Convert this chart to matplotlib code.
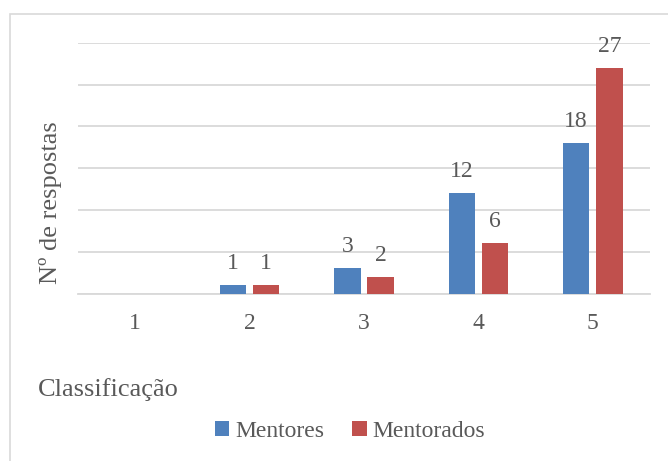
import matplotlib
matplotlib.use("Agg")
from matplotlib import pyplot as plt
import numpy as np

categorias = ["1", "2", "3", "4", "5"]
mentores = [0, 1, 3, 12, 18]
mentorados = [0, 1, 2, 6, 27]
rotulos_mentores = ["", "1", "3", "12", "18"]
rotulos_mentorados = ["", "1", "2", "6", "27"]

plt.rcParams['font.family'] = 'serif'
plt.rcParams['font.serif'] = ['Liberation Serif', 'DejaVu Serif']
cinza = '#595959'
azul = '#4F81BD'
vermelho = '#C0504D'

fig = plt.figure(figsize=(6.68, 4.61), dpi=100)
W, H = 668, 461

# borda do gráfico (só aparece à esquerda e em cima)
fig.patches.append(plt.Rectangle((10 / W, -0.1), 1.2, 1 - 14 / H + 0.1,
                                 transform=fig.transFigure, fill=False,
                                 edgecolor='#D9D9D9', linewidth=1.2))

ax = fig.add_axes([78 / W, 1 - 293.5 / H, 572 / W, 250.5 / H])
x = np.arange(len(categorias))
w = 0.23
off = 0.145
b1 = ax.bar(x - off, mentores, w, color=azul, label='Mentores', zorder=3)
b2 = ax.bar(x + off, mentorados, w, color=vermelho, label='Mentorados', zorder=3)

for barras, rotulos in [(b1, rotulos_mentores), (b2, rotulos_mentorados)]:
    for b, r in zip(barras, rotulos):
        if r:
            ax.annotate(r, (b.get_x() + b.get_width() / 2, b.get_height()),
                        xytext=(0, 8), textcoords='offset points',
                        ha='center', va='bottom', fontsize=17, color=cinza)

ax.set_xlim(-0.5, 4.5)
ax.set_ylim(0, 30)
ax.set_yticks(np.arange(0, 31, 5))
ax.yaxis.grid(True, color='#D9D9D9', linewidth=1.3, zorder=0)
ax.set_yticklabels([])
ax.tick_params(axis='y', length=0)
ax.tick_params(axis='x', length=0, pad=14, labelsize=17, labelcolor=cinza)
ax.set_xticks(x)
ax.set_xticklabels(categorias)
for s in ['top', 'right', 'left']:
    ax.spines[s].set_visible(False)
ax.spines['bottom'].set_color('#D9D9D9')
ax.spines['bottom'].set_linewidth(1.3)

fig.text(51 / W, 1 - 203 / H, 'Nº de respostas', rotation=90, ha='center',
         va='center', fontsize=19, color=cinza)
fig.text(38 / W, 1 - 390 / H, 'Classificação', ha='left', va='center',
         fontsize=19, color=cinza)

leg = fig.legend(handles=[b1, b2], loc='center', bbox_to_anchor=(350 / W, 1 - 431 / H),
                 ncol=2, frameon=False, fontsize=17, handlelength=0.6,
                 handleheight=0.6, handletextpad=0.25, columnspacing=1.2)
for t in leg.get_texts():
    t.set_color(cinza)

fig.savefig('out.png', dpi=100)
